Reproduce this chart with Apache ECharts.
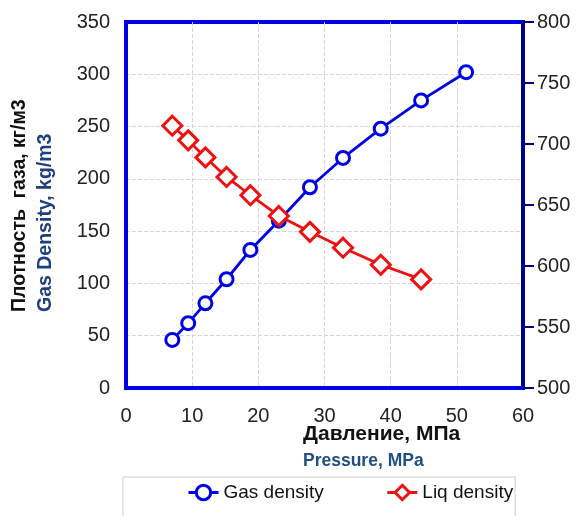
<!DOCTYPE html>
<html>
<head>
<meta charset="utf-8">
<script src="https://cdn.jsdelivr.net/npm/echarts@6/dist/echarts.min.js"></script>
<style>
  html, body { margin: 0; padding: 0; background: #fff; }
  #chart { width: 576px; height: 516px; }
</style>
</head>
<body>
<div id="chart"></div>
<script>
// Pressure steps (MPa) and the measured densities at each step
const pressure = [7.0, 9.4, 12.0, 15.2, 18.8, 23.1, 27.8, 32.8, 38.5, 44.6, 51.4];
const gasDensity = [46, 62, 81, 104, 132, 160, 192, 220, 248, 275, 302];   // kg/m3, left axis
const liqDensity = [715, 703, 689, 673, 658, 641, 628, 615, 601, 589];     // kg/m3, right axis

const leftTicks = { min: 0, max: 350, interval: 50 };
const rightTicks = { min: 500, max: 800, interval: 50 };
const xTicks = { min: 0, max: 60, interval: 10 };

const FONT = "'Liberation Sans', Arial, sans-serif";
const BLUE = '#0000e6';
const NAVY = '#00008b';
const RED = '#ee1111';

const gasPairs = pressure.map((p, i) => [p, gasDensity[i]]);
const liqPairs = liqDensity.map((v, i) => [pressure[i], v]);

const gridLine = {
  show: true, showMinLine: false, showMaxLine: false,
  lineStyle: { color: '#d6d6d6', width: 1, type: [4, 2] }
};

const chart = echarts.init(document.getElementById('chart'), null, { renderer: 'canvas' });

chart.setOption({
  animation: false,
  backgroundColor: '#fff',
  grid: {
    left: 126, right: 53, top: 22, bottom: 128,
    show: true, borderColor: BLUE, borderWidth: 4, backgroundColor: 'transparent'
  },
  xAxis: {
    type: 'value',
    min: xTicks.min, max: xTicks.max, interval: xTicks.interval,
    axisLine: { show: true, lineStyle: { color: BLUE, width: 4 } },
    axisTick: { show: false },
    axisLabel: { color: '#222', fontFamily: FONT, fontSize: 20, margin: 18 },
    splitLine: gridLine
  },
  yAxis: [
    {
      type: 'value', position: 'left',
      min: leftTicks.min, max: leftTicks.max, interval: leftTicks.interval,
      axisLine: { show: true, lineStyle: { color: BLUE, width: 4 } },
      axisTick: { show: false },
      axisLabel: { color: '#222', fontFamily: FONT, fontSize: 20, margin: 16 },
      splitLine: gridLine
    },
    {
      type: 'value', position: 'right',
      min: rightTicks.min, max: rightTicks.max, interval: rightTicks.interval,
      axisLine: { show: true, lineStyle: { color: NAVY, width: 4 } },
      axisTick: { show: true, inside: false, length: 11, lineStyle: { color: NAVY, width: 2 } },
      axisLabel: { color: '#222', fontFamily: FONT, fontSize: 20, margin: 14 },
      splitLine: { show: false }
    }
  ],
  legend: {
    left: 123, top: 477,
    padding: [6, 2, 34, 64],
    borderColor: '#cccccc', borderWidth: 1,
    itemWidth: 30, itemHeight: 18, itemGap: 62,
    textStyle: { color: '#111', fontFamily: FONT, fontSize: 19 },
    data: [
      { name: 'Gas density', itemStyle: { borderWidth: 3 }, lineStyle: { width: 3 } },
      { name: 'Liq density', itemStyle: { borderWidth: 3 }, lineStyle: { width: 3 } }
    ]
  },
  graphic: [
    {
      type: 'text', x: 20, y: 312, rotation: Math.PI / 2,
      style: {
        text: 'Плотность  газа, кг/м3', fill: '#111',
        font: 'bold 19.5px ' + FONT, align: 'left', verticalAlign: 'middle'
      }
    },
    {
      type: 'text', x: 46, y: 312, rotation: Math.PI / 2,
      style: {
        text: 'Gas Density, kg/m3', fill: '#1f3f80',
        font: 'bold 19.5px ' + FONT, align: 'left', verticalAlign: 'middle'
      }
    },
    {
      type: 'text', x: 303, y: 434,
      style: {
        text: 'Давление, МПа', fill: '#111',
        font: 'bold 21px ' + FONT, align: 'left', verticalAlign: 'middle'
      }
    },
    {
      type: 'text', x: 303, y: 461,
      style: {
        text: 'Pressure, MPa', fill: '#1f4e86',
        font: 'bold 17.5px ' + FONT, align: 'left', verticalAlign: 'middle'
      }
    }
  ],
  series: [
    {
      name: 'Gas density', type: 'line', yAxisIndex: 0,
      data: gasPairs,
      symbol: 'circle', symbolSize: 13,
      lineStyle: { color: BLUE, width: 2.8 },
      itemStyle: { color: '#fff', borderColor: BLUE, borderWidth: 3 },
      z: 3
    },
    {
      name: 'Liq density', type: 'line', yAxisIndex: 1,
      data: liqPairs,
      symbol: 'diamond', symbolSize: [19, 19],
      lineStyle: { color: RED, width: 2.8 },
      itemStyle: { color: '#fff', borderColor: RED, borderWidth: 3 },
      z: 4
    }
  ]
});
</script>
</body>
</html>
